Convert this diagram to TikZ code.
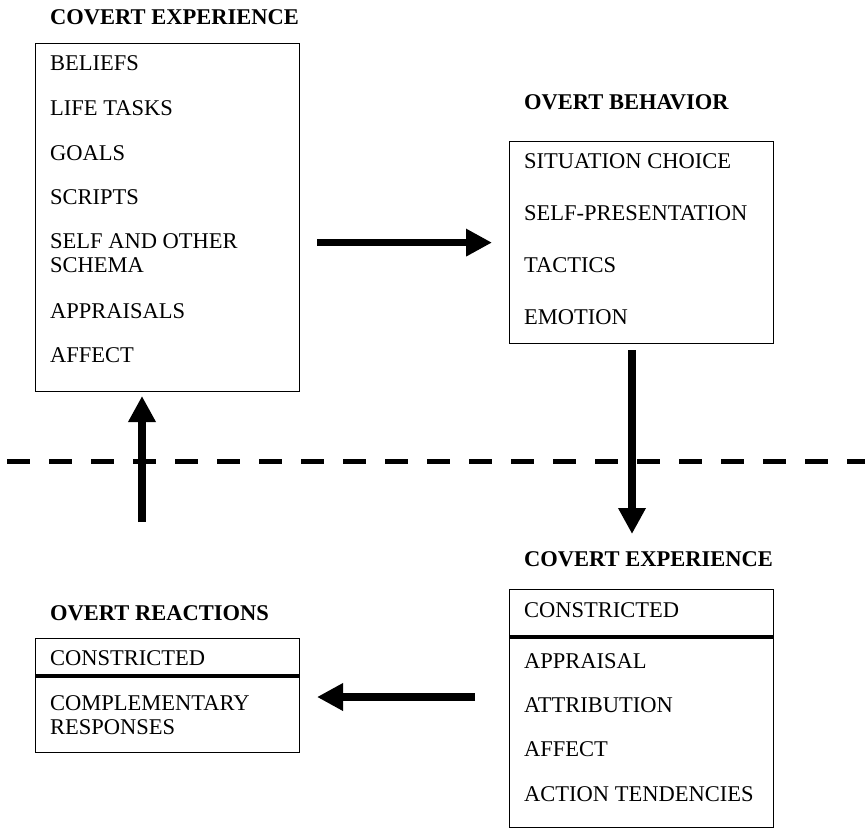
\documentclass[tikz,border=0pt]{standalone}
\usepackage{fontspec}
\setmainfont{Liberation Serif}
\usetikzlibrary{arrows.meta}

\tikzset{
  panel/.style={draw, line width=1.2pt, minimum width=264pt, inner sep=0pt, anchor=north west},
  head/.style={anchor=west, inner sep=0pt, font=\fontsize{22.5}{24}\selectfont\bfseries},
  item/.style={anchor=west, inner sep=0pt, align=left, font=\fontsize{22.5}{24}\selectfont},
  flow/.style={line width=7.5pt, -{Triangle[length=26pt,width=26pt]}},
  split/.style={line width=4.5pt}
}

\begin{document}
\begin{tikzpicture}[x=1pt,y=-1pt]
        \useasboundingbox (0,0) rectangle (865,828);
        % boxes
        \node[panel, minimum height=348pt] (ce1) at (35,43) {};
        \node[panel, minimum height=202pt] (ob) at (509,141) {};
        \node[panel, minimum height=238pt] (ce2) at (509,589) {};
        \node[panel, minimum height=114pt] (or) at (35,638) {};
        % titles
        \node[head] (tce1) at (50,17) {COVERT EXPERIENCE};
        \node[head] (tob) at (524,102) {OVERT BEHAVIOR};
        \node[head] (tce2) at (524,559) {COVERT EXPERIENCE};
        \node[head] (tor) at (50,613) {OVERT REACTIONS};
        % items
        \foreach \t/\y in {BELIEFS/63, LIFE TASKS/108, GOALS/153, SCRIPTS/197, APPRAISALS/311, AFFECT/355}
            \node[item] (a\y) at (50,\y) {\t};
        \node[item] (a253) at (50,253) {SELF AND OTHER\\SCHEMA};
        \foreach \t/\y in {SITUATION CHOICE/161, SELF-PRESENTATION/213, TACTICS/265, EMOTION/317}
            \node[item] (b\y) at (524,\y) {\t};
        \foreach \t/\y in {CONSTRICTED/610, APPRAISAL/661, ATTRIBUTION/705, AFFECT/749, ACTION TENDENCIES/794}
            \node[item] (c\y) at (524,\y) {\t};
        \node[item] (d658) at (50,658) {CONSTRICTED};
        \node[item] (d715) at (50,715) {COMPLEMENTARY\\RESPONSES};
        % thick separators
        \draw[split] (ce2.west |- 0,637) -- (ce2.east |- 0,637);
        \draw[split] (or.west |- 0,676) -- (or.east |- 0,676);
        % dashed divider
        \coordinate (l) at (7,461);
        \coordinate (r) at (865,461);
        \draw[line width=5pt, dash pattern=on 23pt off 19pt] (l) -- (r);
        % arrows
        \coordinate (u1) at (142,522);
        \coordinate (u2) at (142,396);
        \coordinate (v1) at (632,350);
        \coordinate (v2) at (632,534);
        \coordinate (w1) at (475,697);
        \coordinate (w2) at (317,697);
        \draw[flow, shorten <=17pt, shorten >=17pt] (ce1.east |- ob.west) -- (ob.west);
        \draw[flow] (v1) -- (v2);
        \draw[flow] (w1) -- (w2);
        \draw[flow] (u1) -- (u2);
\end{tikzpicture}
\end{document}
